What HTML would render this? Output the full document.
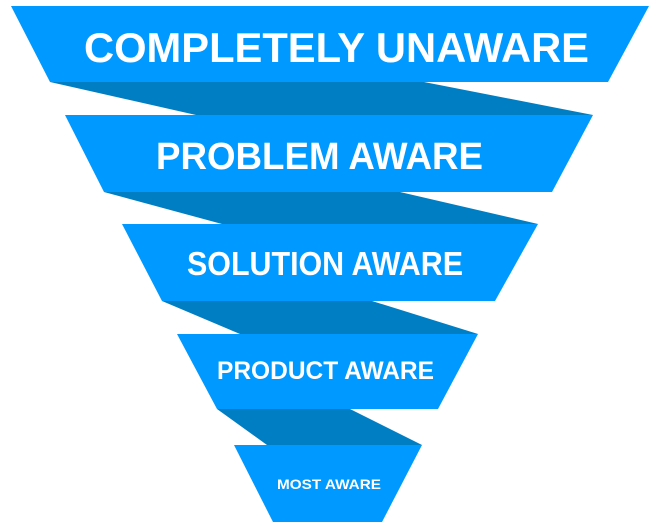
<!DOCTYPE html>
<html><head><meta charset="utf-8"><style>html,body{margin:0;padding:0;background:#fff}svg{display:block}</style></head>
<body>
<svg width="659" height="527" viewBox="0 0 659 527" xmlns="http://www.w3.org/2000/svg">
<g fill="#007EC4">
<polygon points="50,82 424,82 593,115 196,115"/>
<polygon points="104,192 400,192 538,224 222,224"/>
<polygon points="162,301 372,301 478,334 240,334"/>
<polygon points="217,409 350,409 422,445 267,445"/>
</g>
<g fill="#0099FF">
<polygon points="11,6 649,6 608,82 50,82"/>
<polygon points="65,115 593,115 552,192 104,192"/>
<polygon points="122,224 538,224 495,301 162,301"/>
<polygon points="177,334 478,334 438,409 217,409"/>
<polygon points="234,445 422,445 382,522 273,522"/>
</g>
<g fill="#fff" font-family="Liberation Sans, Arial, sans-serif" font-weight="bold">
<text x="84" y="62" font-size="42" textLength="505" lengthAdjust="spacingAndGlyphs">COMPLETELY UNAWARE</text>
<text x="156" y="169" font-size="38" textLength="327" lengthAdjust="spacingAndGlyphs">PROBLEM AWARE</text>
<text x="187" y="275" font-size="33" textLength="276" lengthAdjust="spacingAndGlyphs">SOLUTION AWARE</text>
<text x="217" y="379" font-size="25" textLength="217" lengthAdjust="spacingAndGlyphs">PRODUCT AWARE</text>
<text x="277" y="489" font-size="14" textLength="104" lengthAdjust="spacingAndGlyphs">MOST AWARE</text>
</g>
</svg>
</body></html>
